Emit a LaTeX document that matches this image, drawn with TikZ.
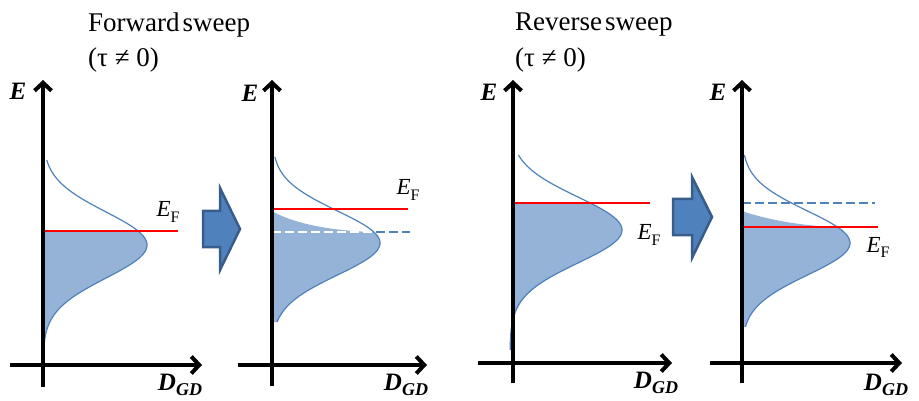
\documentclass[tikz,border=0pt]{standalone}
\usepackage{fontspec}
\setmainfont{Liberation Serif}
\usetikzlibrary{arrows.meta}
\definecolor{fillb}{HTML}{95B3D7}
\definecolor{lineb}{HTML}{4F81BD}
\definecolor{darkb}{HTML}{385D8A}
\newcommand\efl{{\itshape E}\raisebox{-0.22em}{\fontsize{16}{16}\selectfont F}}
\newcommand\dgd{{\bfseries\itshape D\raisebox{-0.22em}{\fontsize{18}{18}\selectfont GD}}}
\begin{document}
\begin{tikzpicture}[x=1pt,y=-1pt,
  axis/.style={line width=4pt,-{Straight Barb[length=8pt,width=17pt]}},
  dos/.style={lineb,line width=1.2pt},
  occ/.style={fill=fillb},
  fermi/.style={red,line width=2.5pt},
  dashb/.style={lineb,line width=2.5pt,dash pattern=on 9pt off 4pt},
  dashw/.style={white,line width=2.5pt,dash pattern=on 9pt off 4pt},
  blockarrow/.style={fill=lineb,draw=darkb,line width=2.5pt,line join=miter},
  lab/.style={font=\fontsize{23}{23}\selectfont, inner sep=0},
  dlab/.style={font=\fontsize{25}{25}\selectfont, inner sep=0},
  elab/.style={font=\fontsize{25}{25}\selectfont\bfseries\itshape, inner sep=0},
  ttl/.style={font=\fontsize{27}{27}\selectfont, inner sep=0, anchor=west},
  declare function={gau(\yv,\yc,\amp,\sig)=\amp*exp(-((\yv-\yc)^2)/(2*\sig*\sig));}
]
\useasboundingbox (0,0) rectangle (919,401);

% ---------- titles
\node[ttl] (t1) at (88,25) {Forward\hspace{3pt}sweep};
\node[ttl] (t1b) at (88,60) {(τ ≠ 0)};
\node[ttl] (t2) at (515,25) {Reverse\hspace{3pt}sweep};
\node[ttl] (t2b) at (515,60) {(τ ≠ 0)};

% ---------- panel 1
\fill[occ] (43,231) -- plot[variable=\t,domain=231:353,samples=80] ({43+gau(\t,245,104,33)},\t) -- (43,353) -- cycle;
\draw[dos] plot[variable=\t,domain=160:353,samples=120] ({43+gau(\t,245,104,33)},\t);
\coordinate (f1a) at (43,231);
\coordinate (f1b) at (178,231);
\draw[fermi] (f1a) -- (f1b);
\node[lab] (ef1) at (168,212) {\efl};
\coordinate (v1a) at (43,387); \coordinate (v1b) at (43,80);
\coordinate (h1a) at (10,365); \coordinate (h1b) at (202,365);
\draw[axis] (v1a) -- (v1b);
\draw[axis] (h1a) -- (h1b);
\node[elab] (e1) at (18,91) {E};
\node[dlab] (d1) at (180,385) {\dgd};

% ---------- arrow 1
\draw[blockarrow] (203,211) -- (220,211) -- (220,188) -- (240,229) -- (220,270) -- (220,247) -- (203,247) -- cycle;

% ---------- panel 2
\fill[occ] (272,211) .. controls (292,223) and (330,231) .. (374,232)
  -- plot[variable=\t,domain=232:322,samples=80] ({272+gau(\t,243,108,32)},\t) -- (272,322) -- cycle;
\draw[dos] plot[variable=\t,domain=157:322,samples=120] ({272+gau(\t,243,108,32)},\t);
\coordinate (d2a) at (272,232); \coordinate (d2m) at (376,232); \coordinate (d2b) at (410,232);
\draw[dashw] (d2a) -- (d2m);
\draw[dashb] (d2m) -- (d2b);
\coordinate (f2a) at (272,209); \coordinate (f2b) at (408,209);
\draw[fermi] (f2a) -- (f2b);
\node[lab] (ef2) at (408,190) {\efl};
\coordinate (v2a) at (272,386); \coordinate (v2b) at (272,80);
\coordinate (h2a) at (238,365); \coordinate (h2b) at (427,365);
\draw[axis] (v2a) -- (v2b);
\draw[axis] (h2a) -- (h2b);
\node[elab] (e2) at (250,93) {E};
\node[dlab] (d2) at (406,385) {\dgd};

% ---------- panel 3
\fill[occ] (513,203) -- plot[variable=\t,domain=203:348,samples=80] ({511+gau(\t,230,111,33)},\t) -- (513,348) -- cycle;
\draw[dos] plot[variable=\t,domain=155:350,samples=120] ({510+gau(\t,230,112,33)},\t);
\coordinate (f3a) at (513,203); \coordinate (f3b) at (650,203);
\draw[fermi] (f3a) -- (f3b);
\node[lab] (ef3) at (649,235) {\efl};
\coordinate (v3a) at (513,383); \coordinate (v3b) at (513,80);
\coordinate (h3a) at (478,363); \coordinate (h3b) at (672,363);
\draw[axis] (v3a) -- (v3b);
\draw[axis] (h3a) -- (h3b);
\node[elab] (e3) at (489,92) {E};
\node[dlab] (d3) at (656,383) {\dgd};

% ---------- arrow 2
\draw[blockarrow] (673,199) -- (692,199) -- (692,177) -- (712,217) -- (692,258) -- (692,235) -- (673,235) -- cycle;

% ---------- panel 4
\fill[occ] (742,211) .. controls (765,219) and (800,226) .. (837,227)
  -- plot[variable=\t,domain=227:327,samples=80] ({742+gau(\t,243,108,32)},\t) -- (742,327) -- cycle;
\draw[dos] plot[variable=\t,domain=155:327,samples=120] ({742+gau(\t,243,108,32)},\t);
\coordinate (d4a) at (742,203); \coordinate (d4b) at (875,203);
\draw[dashb] (d4a) -- (d4b);
\coordinate (f4a) at (742,227); \coordinate (f4b) at (878,227);
\draw[fermi] (f4a) -- (f4b);
\node[lab] (ef4) at (878,247) {\efl};
\coordinate (v4a) at (742,383); \coordinate (v4b) at (742,80);
\coordinate (h4a) at (710,363); \coordinate (h4b) at (902,363);
\draw[axis] (v4a) -- (v4b);
\draw[axis] (h4a) -- (h4b);
\node[elab] (e4) at (718,92) {E};
\node[dlab] (d4) at (886,385) {\dgd};
\end{tikzpicture}
\end{document}
